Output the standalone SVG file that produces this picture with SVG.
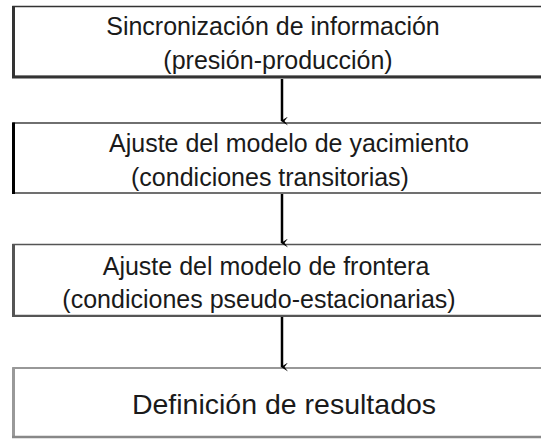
<svg xmlns="http://www.w3.org/2000/svg" width="541" height="441" viewBox="0 0 541 441">
  <style>
    .t { font-family: "Liberation Sans", Arial, sans-serif; font-size: 25px; fill: #1a1a1a; text-anchor: middle; }
    .big { font-size: 28.5px; }
    .conn { stroke: #000; stroke-width: 2.5; fill: none; marker-end: url(#ah); }
  </style>
  <defs>
    <marker id="ah" markerWidth="9" markerHeight="9" refX="4.5" refY="7" orient="auto-start-reverse" markerUnits="userSpaceOnUse" viewBox="0 0 9 9">
      <path d="M0,1 L4.5,8 L9,1 L4.5,4.5 Z" fill="#000"/>
    </marker>
  </defs>
  <rect width="541" height="441" fill="#fff"/>

  <g id="n1">
    <rect x="13" y="6.5" width="540" height="70" fill="#fff" stroke="#333" stroke-width="1.5"/>
    <line x1="13.5" y1="6" x2="13.5" y2="78" stroke="#333" stroke-width="3"/>
    <line x1="12" y1="77" x2="541" y2="77" stroke="#333" stroke-width="3"/>
    <text class="t" x="273" y="35">Sincronización de información</text>
    <text class="t" x="278" y="69">(presión-producción)</text>
  </g>

  <g id="n2">
    <rect x="13" y="123" width="540" height="70" fill="#fff" stroke="#111" stroke-width="1.2"/>
    <line x1="13.5" y1="122.5" x2="13.5" y2="194" stroke="#000" stroke-width="3"/>
    <text class="t" x="289" y="152">Ajuste del modelo de yacimiento</text>
    <text class="t" x="270" y="186">(condiciones transitorias)</text>
  </g>

  <g id="n3">
    <rect x="13" y="244.5" width="540" height="71" fill="#fff" stroke="#555" stroke-width="1.5"/>
    <line x1="13.5" y1="244" x2="13.5" y2="317" stroke="#555" stroke-width="3"/>
    <line x1="12" y1="316" x2="541" y2="316" stroke="#555" stroke-width="2"/>
    <text class="t" x="266" y="275">Ajuste del modelo de frontera</text>
    <text class="t" x="259" y="308">(condiciones pseudo-estacionarias)</text>
  </g>

  <g id="n4">
    <rect x="13" y="368" width="540" height="69" fill="#fff" stroke="#777" stroke-width="1.5"/>
    <line x1="13.5" y1="367.5" x2="13.5" y2="438" stroke="#999" stroke-width="3"/>
    <line x1="12" y1="437" x2="541" y2="437" stroke="#888" stroke-width="2.5"/>
    <text class="t big" x="284" y="414">Definición de resultados</text>
  </g>

  <g id="connectors">
    <line class="conn" x1="282" y1="79" x2="282" y2="121"/>
    <line class="conn" x1="282" y1="194" x2="282" y2="243"/>
    <line class="conn" x1="282" y1="317" x2="282" y2="367"/>
  </g>
</svg>
